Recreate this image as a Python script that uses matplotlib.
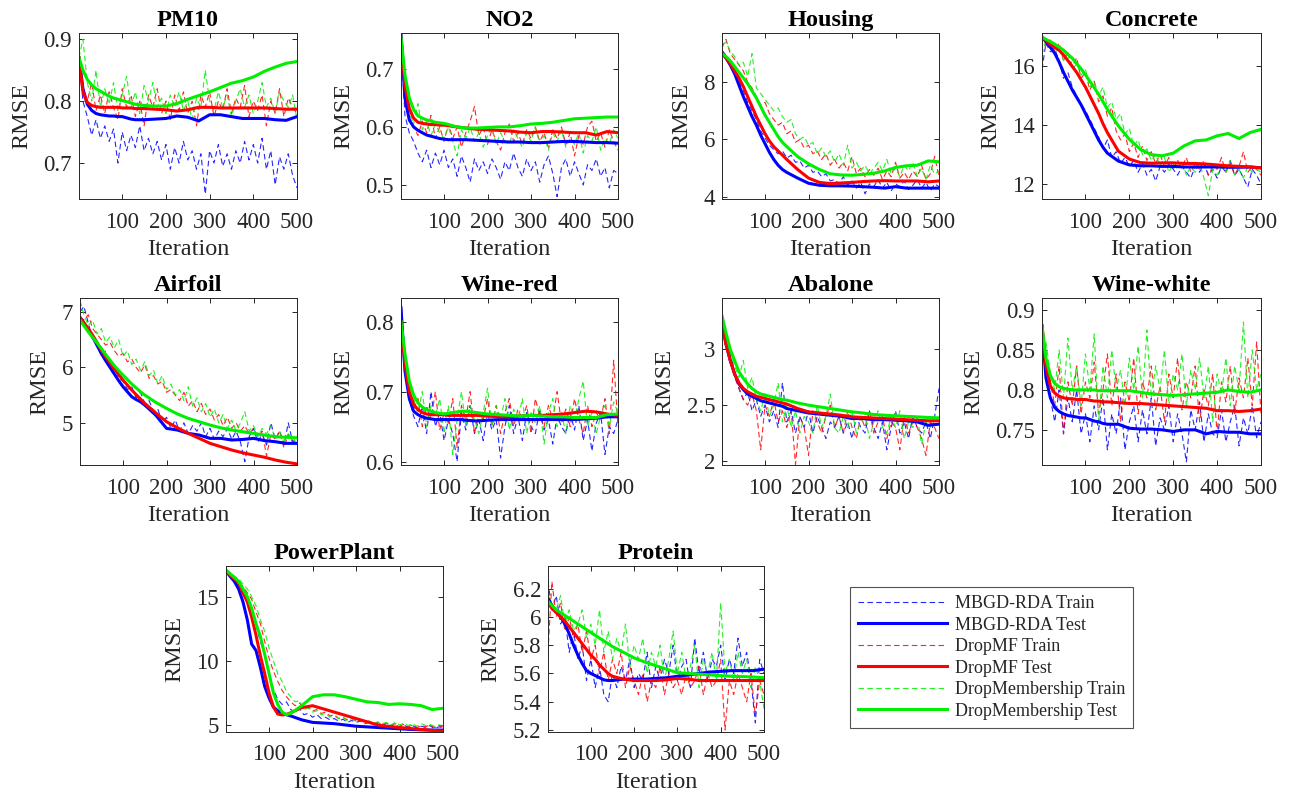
import matplotlib
matplotlib.use("Agg")
import matplotlib.pyplot as plt
from matplotlib.lines import Line2D

plt.rcParams['font.family'] = ['Liberation Serif', 'DejaVu Serif']

# ---------------- data ----------------
X_TRAIN = [1] + list(range(10, 501, 10))
X_TEST = [1, 10, 20, 30, 40, 50, 60, 70, 80, 90, 100, 110, 120, 130, 140, 150,
          175, 200, 225, 250, 275, 300, 325, 350, 375, 400, 425, 450, 475, 500]

titles = ["PM10", "NO2", "Housing", "Concrete", "Airfoil", "Wine-red",
          "Abalone", "Wine-white", "PowerPlant", "Protein"]
series_labels = ["MBGD-RDA Train", "MBGD-RDA Test", "DropMF Train", "DropMF Test",
                 "DropMembership Train", "DropMembership Test"]

ylims = {
    "PM10": (0.642, 0.91), "NO2": (0.476, 0.7615), "Housing": (3.92, 9.72),
    "Concrete": (11.49, 17.14), "Airfoil": (4.24, 7.25), "Wine-red": (0.595, 0.834),
    "Abalone": (1.964, 3.46), "Wine-white": (0.706, 0.915),
    "PowerPlant": (4.45, 17.39), "Protein": (5.186, 6.36),
}
yticks = {
    "PM10": [0.7, 0.8, 0.9], "NO2": [0.5, 0.6, 0.7], "Housing": [4, 6, 8],
    "Concrete": [12, 14, 16], "Airfoil": [5, 6, 7], "Wine-red": [0.6, 0.7, 0.8],
    "Abalone": [2, 2.5, 3], "Wine-white": [0.75, 0.8, 0.85, 0.9],
    "PowerPlant": [5, 10, 15], "Protein": [5.2, 5.4, 5.6, 5.8, 6.0, 6.2],
}

# train (dashed) series, sampled at X_TRAIN
pm10_rda_train = [0.870, 0.800, 0.775, 0.745, 0.770, 0.740, 0.760, 0.735, 0.755, 0.700, 0.750, 0.720, 0.745, 0.725, 0.760, 0.720, 0.740, 0.715, 0.735, 0.705, 0.730, 0.690, 0.725, 0.700, 0.735, 0.705, 0.720, 0.690, 0.715, 0.650, 0.720, 0.700, 0.730, 0.695, 0.715, 0.690, 0.720, 0.700, 0.735, 0.705, 0.730, 0.700, 0.740, 0.690, 0.720, 0.665, 0.710, 0.690, 0.715, 0.680, 0.660]
pm10_mf_train = [0.880, 0.820, 0.800, 0.830, 0.785, 0.810, 0.780, 0.815, 0.790, 0.770, 0.820, 0.790, 0.810, 0.775, 0.800, 0.760, 0.810, 0.790, 0.820, 0.780, 0.800, 0.770, 0.810, 0.785, 0.815, 0.780, 0.800, 0.760, 0.810, 0.790, 0.815, 0.775, 0.800, 0.785, 0.820, 0.780, 0.805, 0.790, 0.825, 0.775, 0.800, 0.785, 0.810, 0.760, 0.800, 0.780, 0.820, 0.775, 0.805, 0.790, 0.780]
pm10_mem_train = [0.870, 0.900, 0.830, 0.800, 0.850, 0.790, 0.820, 0.795, 0.830, 0.785, 0.810, 0.840, 0.790, 0.815, 0.780, 0.825, 0.800, 0.830, 0.790, 0.805, 0.780, 0.810, 0.790, 0.815, 0.785, 0.800, 0.770, 0.805, 0.790, 0.850, 0.800, 0.785, 0.815, 0.790, 0.810, 0.775, 0.800, 0.820, 0.790, 0.810, 0.780, 0.800, 0.830, 0.790, 0.805, 0.780, 0.815, 0.800, 0.790, 0.810, 0.770]
pm10_rda_test = [0.870, 0.820, 0.795, 0.785, 0.780, 0.778, 0.777, 0.776, 0.776, 0.775, 0.775, 0.773, 0.771, 0.770, 0.770, 0.770, 0.771, 0.772, 0.776, 0.774, 0.768, 0.778, 0.778, 0.775, 0.772, 0.772, 0.772, 0.770, 0.769, 0.775]
pm10_mf_test = [0.870, 0.815, 0.798, 0.793, 0.791, 0.790, 0.790, 0.790, 0.790, 0.790, 0.789, 0.789, 0.789, 0.788, 0.788, 0.788, 0.787, 0.786, 0.784, 0.786, 0.790, 0.790, 0.789, 0.789, 0.789, 0.789, 0.789, 0.788, 0.787, 0.787]
pm10_mem_test = [0.870, 0.850, 0.835, 0.826, 0.820, 0.816, 0.812, 0.808, 0.805, 0.803, 0.801, 0.799, 0.797, 0.795, 0.794, 0.793, 0.792, 0.792, 0.796, 0.803, 0.809, 0.815, 0.822, 0.829, 0.833, 0.839, 0.848, 0.855, 0.861, 0.864]

no2_rda_train = [0.750, 0.620, 0.590, 0.575, 0.555, 0.540, 0.560, 0.530, 0.555, 0.535, 0.560, 0.530, 0.545, 0.515, 0.550, 0.530, 0.505, 0.545, 0.525, 0.540, 0.520, 0.545, 0.530, 0.510, 0.540, 0.525, 0.555, 0.530, 0.515, 0.545, 0.525, 0.540, 0.505, 0.535, 0.550, 0.520, 0.480, 0.530, 0.545, 0.515, 0.540, 0.520, 0.500, 0.535, 0.525, 0.545, 0.515, 0.530, 0.495, 0.525, 0.520]
no2_mf_train = [0.755, 0.640, 0.615, 0.600, 0.585, 0.610, 0.590, 0.620, 0.580, 0.600, 0.575, 0.605, 0.580, 0.600, 0.565, 0.590, 0.610, 0.635, 0.585, 0.600, 0.570, 0.595, 0.575, 0.560, 0.590, 0.605, 0.575, 0.590, 0.570, 0.595, 0.580, 0.600, 0.575, 0.590, 0.565, 0.595, 0.580, 0.600, 0.570, 0.590, 0.550, 0.585, 0.570, 0.600, 0.610, 0.575, 0.590, 0.565, 0.595, 0.575, 0.560]
no2_mem_train = [0.755, 0.650, 0.625, 0.605, 0.640, 0.595, 0.610, 0.585, 0.605, 0.590, 0.580, 0.600, 0.575, 0.550, 0.595, 0.580, 0.600, 0.575, 0.590, 0.565, 0.585, 0.600, 0.570, 0.590, 0.575, 0.570, 0.595, 0.580, 0.565, 0.590, 0.575, 0.600, 0.570, 0.585, 0.560, 0.590, 0.575, 0.595, 0.565, 0.580, 0.570, 0.590, 0.555, 0.585, 0.575, 0.600, 0.560, 0.580, 0.570, 0.595, 0.580]
no2_rda_test = [0.760, 0.650, 0.612, 0.600, 0.594, 0.590, 0.586, 0.584, 0.582, 0.580, 0.579, 0.578, 0.578, 0.578, 0.578, 0.578, 0.577, 0.576, 0.575, 0.574, 0.574, 0.573, 0.573, 0.574, 0.575, 0.575, 0.574, 0.573, 0.573, 0.572]
no2_mf_test = [0.755, 0.670, 0.632, 0.615, 0.608, 0.606, 0.605, 0.604, 0.604, 0.603, 0.603, 0.602, 0.601, 0.600, 0.599, 0.598, 0.596, 0.595, 0.594, 0.593, 0.591, 0.590, 0.592, 0.592, 0.591, 0.590, 0.590, 0.586, 0.592, 0.590]
no2_mem_test = [0.755, 0.690, 0.650, 0.630, 0.619, 0.615, 0.612, 0.610, 0.608, 0.607, 0.606, 0.604, 0.602, 0.600, 0.599, 0.598, 0.598, 0.599, 0.600, 0.600, 0.602, 0.605, 0.606, 0.608, 0.611, 0.614, 0.615, 0.616, 0.617, 0.617]

housing_rda_train = [9.10, 8.95, 8.70, 8.45, 8.00, 7.70, 7.30, 7.00, 6.70, 6.30, 6.05, 5.80, 5.65, 5.50, 5.60, 5.35, 5.45, 5.20, 5.25, 5.00, 5.10, 4.85, 4.90, 4.70, 4.80, 4.55, 4.60, 4.45, 4.70, 4.40, 4.55, 4.30, 4.50, 4.10, 4.45, 4.35, 4.60, 4.30, 4.50, 4.20, 4.45, 4.35, 4.55, 4.25, 4.40, 4.60, 4.30, 4.50, 4.20, 4.45, 4.35]
housing_mf_train = [9.20, 9.50, 9.00, 8.80, 8.60, 8.40, 8.00, 7.80, 7.50, 7.20, 7.30, 6.90, 6.70, 6.50, 6.60, 6.20, 6.30, 5.90, 6.00, 5.70, 5.80, 5.50, 5.60, 5.30, 5.50, 5.10, 5.30, 5.00, 5.20, 4.90, 5.40, 4.80, 5.00, 4.70, 4.95, 4.75, 5.00, 4.60, 4.90, 4.70, 5.20, 4.65, 4.85, 4.60, 4.90, 4.70, 5.10, 4.60, 4.80, 5.40, 4.70]
housing_mem_train = [9.30, 9.40, 9.10, 8.90, 8.60, 8.70, 8.20, 9.00, 7.80, 7.60, 7.40, 7.20, 7.00, 7.10, 6.80, 6.60, 6.70, 6.20, 6.00, 6.10, 5.80, 5.90, 5.50, 5.70, 5.40, 5.60, 5.20, 5.50, 5.10, 5.80, 5.00, 5.20, 4.90, 5.10, 4.80, 5.00, 5.20, 4.90, 5.30, 4.80, 5.00, 4.70, 5.10, 4.90, 5.20, 4.70, 5.00, 4.60, 5.10, 4.80, 4.90]
housing_rda_test = [9.05, 8.85, 8.60, 8.30, 7.90, 7.50, 7.15, 6.80, 6.50, 6.15, 5.85, 5.55, 5.30, 5.10, 4.95, 4.85, 4.65, 4.47, 4.40, 4.38, 4.38, 4.37, 4.35, 4.33, 4.30, 4.35, 4.30, 4.30, 4.30, 4.30]
housing_mf_test = [9.00, 8.85, 8.65, 8.40, 8.15, 7.85, 7.50, 7.15, 6.80, 6.50, 6.20, 5.95, 5.75, 5.60, 5.45, 5.30, 4.95, 4.65, 4.50, 4.46, 4.48, 4.50, 4.53, 4.55, 4.56, 4.55, 4.55, 4.55, 4.52, 4.55]
housing_mem_test = [9.00, 8.90, 8.75, 8.55, 8.35, 8.15, 7.95, 7.70, 7.45, 7.15, 6.85, 6.60, 6.35, 6.10, 5.90, 5.75, 5.40, 5.15, 4.95, 4.80, 4.76, 4.75, 4.78, 4.82, 4.90, 5.02, 5.08, 5.10, 5.25, 5.22]

concrete_rda_train = [15.90, 16.80, 16.50, 16.60, 16.20, 15.60, 15.80, 15.30, 15.00, 14.70, 14.50, 14.20, 13.90, 13.60, 13.20, 13.50, 12.90, 13.10, 12.70, 12.90, 12.60, 12.80, 12.40, 12.70, 12.30, 12.50, 12.10, 12.60, 12.40, 12.70, 12.50, 12.30, 12.60, 12.40, 12.20, 12.60, 12.40, 12.70, 12.30, 12.50, 12.20, 12.60, 12.40, 12.80, 12.30, 12.50, 12.20, 11.90, 12.50, 12.30, 12.00]
concrete_mf_train = [17.10, 16.70, 16.90, 16.50, 16.80, 16.20, 16.50, 16.00, 16.30, 15.60, 15.80, 15.20, 15.50, 14.80, 15.00, 14.30, 14.60, 13.80, 13.50, 13.70, 13.10, 13.40, 12.90, 13.30, 12.80, 13.10, 12.70, 13.00, 12.60, 12.90, 12.50, 12.80, 12.60, 12.90, 12.40, 12.70, 12.50, 12.80, 12.30, 12.60, 12.50, 12.90, 12.40, 12.70, 12.30, 12.60, 13.10, 12.40, 12.60, 12.50, 12.30]
concrete_mem_train = [16.40, 16.90, 16.70, 16.50, 16.60, 16.20, 16.40, 15.90, 16.10, 15.70, 15.90, 15.30, 15.50, 15.00, 15.30, 14.60, 14.80, 14.20, 14.40, 13.70, 13.90, 13.30, 13.50, 13.00, 13.20, 12.80, 13.00, 12.60, 12.90, 12.40, 12.70, 12.50, 12.80, 12.30, 12.60, 12.40, 12.70, 12.20, 11.60, 12.50, 12.30, 12.60, 12.40, 12.80, 12.30, 12.50, 12.20, 12.60, 12.40, 12.50, 12.40]
concrete_rda_test = [17.00, 16.85, 16.65, 16.45, 16.15, 15.80, 15.50, 15.20, 14.95, 14.70, 14.40, 14.10, 13.80, 13.50, 13.25, 13.05, 12.78, 12.65, 12.62, 12.62, 12.60, 12.60, 12.58, 12.58, 12.58, 12.58, 12.57, 12.57, 12.58, 12.55]
concrete_mf_test = [17.00, 16.90, 16.75, 16.65, 16.55, 16.40, 16.20, 16.00, 15.80, 15.55, 15.30, 15.00, 14.70, 14.40, 14.05, 13.75, 13.12, 12.85, 12.73, 12.71, 12.72, 12.72, 12.70, 12.70, 12.68, 12.65, 12.62, 12.60, 12.58, 12.55]
concrete_mem_test = [17.00, 16.92, 16.85, 16.76, 16.66, 16.56, 16.42, 16.28, 16.10, 15.92, 15.72, 15.50, 15.28, 15.05, 14.80, 14.54, 13.98, 13.52, 13.18, 13.00, 12.96, 13.05, 13.30, 13.47, 13.50, 13.64, 13.72, 13.55, 13.75, 13.86]

airfoil_rda_train = [7.00, 7.10, 6.80, 6.50, 6.45, 6.20, 6.30, 6.00, 6.05, 5.80, 5.75, 5.60, 5.65, 5.45, 5.55, 5.35, 5.40, 5.20, 5.25, 5.00, 5.10, 4.90, 5.05, 4.85, 5.00, 4.80, 4.95, 4.85, 5.00, 4.75, 4.90, 4.70, 4.85, 4.75, 4.90, 4.70, 4.85, 4.65, 4.30, 4.75, 4.90, 4.65, 4.80, 4.60, 5.00, 4.70, 4.85, 4.60, 5.00, 4.65, 4.75]
airfoil_mf_train = [6.90, 6.85, 6.95, 6.70, 6.60, 6.50, 6.40, 6.45, 6.30, 6.20, 6.25, 6.10, 6.15, 6.00, 5.90, 6.05, 5.80, 5.85, 5.70, 5.75, 5.55, 5.60, 5.50, 5.40, 5.55, 5.30, 5.40, 5.20, 5.35, 5.15, 5.25, 5.05, 5.15, 4.95, 5.10, 4.90, 5.00, 4.85, 4.95, 4.80, 4.90, 4.75, 4.85, 4.40, 4.80, 4.70, 4.85, 4.55, 4.80, 4.65, 4.70]
airfoil_mem_train = [7.20, 6.95, 6.75, 6.85, 6.60, 6.70, 6.45, 6.55, 6.35, 6.50, 6.20, 6.30, 6.05, 6.15, 5.95, 6.10, 5.85, 5.95, 5.70, 5.85, 5.60, 5.70, 5.50, 5.60, 5.40, 5.65, 5.30, 5.45, 5.20, 5.35, 5.10, 5.25, 5.00, 5.15, 4.90, 5.05, 4.85, 5.00, 5.20, 4.85, 4.95, 4.75, 4.90, 4.80, 4.95, 4.70, 4.85, 4.65, 4.80, 4.70, 4.65]
airfoil_rda_test = [6.90, 6.80, 6.68, 6.55, 6.40, 6.25, 6.12, 6.00, 5.88, 5.76, 5.65, 5.56, 5.47, 5.42, 5.38, 5.32, 5.14, 4.90, 4.87, 4.81, 4.78, 4.72, 4.72, 4.69, 4.70, 4.72, 4.68, 4.66, 4.63, 4.63]
airfoil_mf_test = [6.90, 6.80, 6.70, 6.58, 6.45, 6.31, 6.19, 6.08, 5.97, 5.87, 5.77, 5.68, 5.59, 5.51, 5.43, 5.35, 5.18, 5.02, 4.91, 4.81, 4.72, 4.63, 4.57, 4.51, 4.46, 4.42, 4.38, 4.33, 4.29, 4.26]
airfoil_mem_test = [6.85, 6.75, 6.64, 6.54, 6.44, 6.34, 6.23, 6.13, 6.03, 5.94, 5.86, 5.78, 5.70, 5.63, 5.56, 5.50, 5.37, 5.26, 5.16, 5.08, 5.02, 4.96, 4.91, 4.87, 4.84, 4.81, 4.78, 4.75, 4.74, 4.73]

winered_rda_train = [0.820, 0.740, 0.690, 0.665, 0.650, 0.680, 0.640, 0.700, 0.650, 0.670, 0.630, 0.660, 0.640, 0.600, 0.670, 0.645, 0.680, 0.640, 0.660, 0.630, 0.670, 0.645, 0.660, 0.605, 0.650, 0.680, 0.640, 0.665, 0.630, 0.670, 0.650, 0.640, 0.675, 0.645, 0.660, 0.625, 0.665, 0.650, 0.640, 0.670, 0.645, 0.680, 0.630, 0.660, 0.615, 0.655, 0.670, 0.610, 0.650, 0.640, 0.660]
winered_mf_train = [0.800, 0.760, 0.700, 0.675, 0.690, 0.650, 0.680, 0.660, 0.700, 0.645, 0.670, 0.655, 0.690, 0.620, 0.680, 0.660, 0.700, 0.640, 0.670, 0.660, 0.690, 0.650, 0.680, 0.640, 0.670, 0.690, 0.650, 0.675, 0.660, 0.680, 0.640, 0.690, 0.665, 0.650, 0.680, 0.660, 0.700, 0.655, 0.675, 0.650, 0.690, 0.660, 0.640, 0.680, 0.650, 0.670, 0.660, 0.690, 0.640, 0.745, 0.650]
winered_mem_train = [0.830, 0.760, 0.710, 0.690, 0.670, 0.700, 0.650, 0.680, 0.665, 0.690, 0.640, 0.680, 0.610, 0.660, 0.700, 0.650, 0.680, 0.660, 0.640, 0.670, 0.705, 0.650, 0.680, 0.660, 0.690, 0.645, 0.675, 0.660, 0.690, 0.640, 0.670, 0.655, 0.680, 0.625, 0.670, 0.690, 0.650, 0.670, 0.640, 0.680, 0.660, 0.690, 0.715, 0.650, 0.670, 0.640, 0.665, 0.680, 0.650, 0.685, 0.670]
winered_rda_test = [0.820, 0.730, 0.690, 0.672, 0.667, 0.664, 0.662, 0.661, 0.660, 0.660, 0.660, 0.660, 0.660, 0.660, 0.660, 0.659, 0.658, 0.659, 0.660, 0.660, 0.660, 0.660, 0.660, 0.660, 0.660, 0.660, 0.661, 0.662, 0.664, 0.664]
winered_mf_test = [0.800, 0.740, 0.700, 0.682, 0.674, 0.670, 0.668, 0.667, 0.667, 0.667, 0.667, 0.666, 0.666, 0.666, 0.666, 0.666, 0.666, 0.665, 0.664, 0.664, 0.665, 0.666, 0.666, 0.667, 0.668, 0.670, 0.672, 0.671, 0.668, 0.666]
winered_mem_test = [0.800, 0.755, 0.715, 0.695, 0.684, 0.678, 0.674, 0.672, 0.670, 0.669, 0.668, 0.669, 0.670, 0.671, 0.672, 0.672, 0.670, 0.668, 0.667, 0.666, 0.665, 0.666, 0.665, 0.664, 0.664, 0.663, 0.663, 0.663, 0.667, 0.668]

abalone_rda_train = [3.20, 3.10, 2.95, 2.80, 2.65, 2.55, 2.62, 2.45, 2.55, 2.40, 2.50, 2.35, 2.45, 2.30, 2.70, 2.35, 2.45, 2.25, 2.40, 2.30, 2.45, 2.25, 2.40, 2.30, 2.20, 2.35, 2.30, 2.40, 2.25, 2.35, 2.20, 2.40, 2.30, 2.25, 2.45, 2.30, 2.20, 2.35, 2.10, 2.30, 2.45, 2.25, 2.35, 2.20, 2.40, 2.30, 2.25, 2.35, 2.20, 2.40, 2.65]
abalone_mf_train = [3.20, 3.05, 2.90, 2.75, 2.65, 2.55, 2.50, 2.60, 2.45, 2.10, 2.50, 2.40, 2.55, 2.35, 2.45, 2.30, 2.45, 1.97, 2.40, 2.30, 2.05, 2.45, 2.35, 2.25, 2.40, 2.50, 2.30, 2.40, 2.25, 2.45, 2.30, 2.20, 2.40, 2.30, 2.45, 2.25, 2.35, 2.40, 2.20, 2.35, 2.30, 2.10, 2.40, 2.25, 2.35, 2.30, 2.20, 2.05, 2.35, 2.30, 2.20]
abalone_mem_train = [3.30, 3.15, 2.95, 2.85, 2.75, 2.90, 2.65, 2.75, 2.55, 2.45, 2.60, 2.40, 2.50, 2.70, 2.35, 2.50, 2.30, 2.45, 2.25, 2.40, 2.35, 2.25, 2.50, 2.30, 2.40, 2.60, 2.30, 2.25, 2.40, 2.30, 2.45, 2.25, 2.35, 2.40, 2.20, 2.35, 2.45, 2.30, 2.25, 2.40, 2.30, 2.45, 2.20, 2.35, 2.30, 2.40, 2.15, 2.35, 2.30, 2.40, 2.35]
abalone_rda_test = [3.25, 3.05, 2.90, 2.78, 2.69, 2.64, 2.60, 2.58, 2.56, 2.54, 2.53, 2.52, 2.51, 2.50, 2.49, 2.47, 2.45, 2.43, 2.42, 2.41, 2.40, 2.38, 2.38, 2.37, 2.37, 2.365, 2.36, 2.35, 2.32, 2.33]
abalone_mf_test = [3.22, 3.05, 2.90, 2.78, 2.70, 2.65, 2.62, 2.60, 2.58, 2.57, 2.56, 2.55, 2.54, 2.53, 2.52, 2.51, 2.47, 2.44, 2.43, 2.42, 2.41, 2.395, 2.39, 2.385, 2.38, 2.375, 2.37, 2.365, 2.36, 2.36]
abalone_mem_test = [3.30, 3.15, 3.00, 2.90, 2.80, 2.74, 2.69, 2.65, 2.62, 2.60, 2.59, 2.58, 2.57, 2.56, 2.55, 2.545, 2.52, 2.50, 2.485, 2.47, 2.455, 2.44, 2.43, 2.416, 2.41, 2.404, 2.40, 2.395, 2.39, 2.386]

winewhite_rda_train = [0.890, 0.820, 0.790, 0.760, 0.800, 0.745, 0.790, 0.760, 0.800, 0.745, 0.770, 0.735, 0.780, 0.750, 0.790, 0.725, 0.770, 0.745, 0.790, 0.725, 0.760, 0.780, 0.735, 0.775, 0.745, 0.790, 0.730, 0.765, 0.750, 0.780, 0.735, 0.770, 0.745, 0.710, 0.775, 0.750, 0.785, 0.735, 0.770, 0.745, 0.740, 0.775, 0.735, 0.760, 0.780, 0.730, 0.765, 0.745, 0.780, 0.740, 0.760]
winewhite_mf_train = [0.880, 0.840, 0.810, 0.780, 0.830, 0.745, 0.810, 0.780, 0.830, 0.770, 0.810, 0.790, 0.835, 0.770, 0.800, 0.845, 0.780, 0.820, 0.760, 0.810, 0.785, 0.840, 0.770, 0.810, 0.790, 0.830, 0.775, 0.805, 0.760, 0.820, 0.790, 0.840, 0.775, 0.810, 0.790, 0.830, 0.760, 0.800, 0.780, 0.820, 0.745, 0.810, 0.785, 0.830, 0.770, 0.815, 0.790, 0.840, 0.780, 0.860, 0.770]
winewhite_mem_train = [0.870, 0.860, 0.820, 0.800, 0.850, 0.790, 0.865, 0.800, 0.830, 0.780, 0.845, 0.800, 0.870, 0.760, 0.830, 0.790, 0.850, 0.800, 0.825, 0.780, 0.840, 0.800, 0.855, 0.790, 0.875, 0.790, 0.830, 0.800, 0.850, 0.780, 0.820, 0.800, 0.845, 0.780, 0.825, 0.800, 0.840, 0.790, 0.830, 0.760, 0.820, 0.795, 0.840, 0.780, 0.830, 0.800, 0.885, 0.790, 0.850, 0.800, 0.820]
winewhite_rda_test = [0.880, 0.815, 0.790, 0.778, 0.773, 0.770, 0.768, 0.767, 0.766, 0.765, 0.765, 0.763, 0.761, 0.760, 0.758, 0.757, 0.757, 0.752, 0.751, 0.751, 0.750, 0.748, 0.750, 0.750, 0.745, 0.748, 0.747, 0.747, 0.745, 0.745]
winewhite_mf_test = [0.880, 0.830, 0.805, 0.796, 0.792, 0.790, 0.789, 0.789, 0.788, 0.788, 0.788, 0.787, 0.786, 0.786, 0.785, 0.785, 0.784, 0.783, 0.783, 0.782, 0.781, 0.780, 0.779, 0.778, 0.777, 0.774, 0.774, 0.773, 0.774, 0.776]
winewhite_mem_test = [0.880, 0.840, 0.818, 0.808, 0.804, 0.802, 0.801, 0.800, 0.800, 0.800, 0.800, 0.800, 0.800, 0.799, 0.799, 0.799, 0.799, 0.799, 0.797, 0.795, 0.794, 0.793, 0.794, 0.795, 0.796, 0.797, 0.800, 0.798, 0.797, 0.800]

power_rda_train = [17.0, 16.8, 16.4, 15.8, 15.2, 14.6, 13.8, 12.8, 11.5, 10.5, 9.0, 7.8, 7.0, 6.6, 6.8, 6.2, 6.0, 6.3, 5.8, 5.9, 5.6, 5.8, 5.5, 5.6, 5.4, 5.5, 5.3, 5.45, 5.2, 5.35, 5.2, 5.3, 5.1, 5.2, 5.0, 5.15, 4.95, 5.1, 4.9, 5.0, 4.85, 5.0, 4.8, 4.95, 4.75, 4.9, 4.8, 4.95, 4.7, 4.85, 4.8]
power_mf_train = [16.8, 16.9, 16.5, 16.2, 15.8, 15.3, 14.8, 13.8, 12.9, 11.5, 10.2, 9.2, 8.4, 7.7, 7.2, 6.8, 6.5, 6.7, 6.3, 6.4, 6.1, 6.2, 5.9, 6.0, 5.7, 5.8, 5.5, 5.6, 5.4, 5.5, 5.3, 5.4, 5.2, 5.3, 5.1, 5.2, 5.0, 5.15, 4.95, 5.1, 4.9, 5.05, 4.85, 5.0, 4.8, 4.95, 4.85, 5.0, 4.8, 4.9, 4.85]
power_mem_train = [17.2, 16.9, 16.6, 16.4, 16.0, 15.6, 15.0, 14.3, 13.2, 12.3, 11.0, 10.0, 9.0, 8.4, 7.6, 7.2, 6.8, 6.9, 6.2, 6.3, 6.0, 6.1, 5.8, 5.9, 5.6, 5.7, 5.5, 5.6, 5.3, 5.5, 5.3, 5.4, 5.2, 5.3, 5.1, 5.25, 5.1, 5.2, 5.0, 5.2, 5.0, 5.15, 4.95, 5.1, 4.9, 5.1, 4.95, 5.05, 4.9, 5.0, 4.95]
power_rda_test = [17.0, 16.6, 16.2, 15.6, 14.6, 13.2, 11.3, 10.8, 9.5, 8.0, 7.1, 6.4, 6.1, 5.9, 5.8, 5.7, 5.4, 5.2, 5.15, 5.1, 5.0, 4.9, 4.85, 4.8, 4.75, 4.7, 4.65, 4.62, 4.6, 4.6]
power_mf_test = [17.0, 16.7, 16.4, 16.1, 15.3, 14.6, 13.4, 12.0, 10.4, 9.0, 7.5, 6.4, 5.85, 5.78, 5.82, 5.95, 6.35, 6.5, 6.25, 6.0, 5.75, 5.5, 5.25, 5.0, 4.88, 4.8, 4.72, 4.65, 4.58, 4.53]
power_mem_test = [17.0, 16.8, 16.5, 16.2, 15.6, 15.0, 14.1, 12.9, 11.9, 10.5, 9.0, 7.5, 6.6, 6.0, 5.8, 5.9, 6.5, 7.2, 7.35, 7.35, 7.2, 7.0, 6.8, 6.75, 6.6, 6.65, 6.6, 6.5, 6.2, 6.3]

protein_rda_train = [6.25, 6.05, 6.15, 5.95, 6.00, 5.75, 5.90, 5.70, 5.80, 5.55, 5.70, 5.50, 5.65, 5.45, 5.40, 5.60, 5.50, 5.65, 5.55, 5.70, 5.50, 5.60, 5.55, 5.75, 5.50, 5.65, 5.55, 5.70, 5.60, 5.80, 5.55, 5.65, 5.70, 5.50, 5.85, 5.60, 5.75, 5.55, 5.70, 5.65, 5.80, 5.55, 5.70, 5.60, 5.85, 5.65, 5.75, 5.55, 5.25, 5.70, 5.60]
protein_mf_train = [5.75, 6.25, 6.00, 6.10, 5.90, 6.00, 5.85, 5.95, 5.75, 5.90, 5.70, 5.80, 5.60, 5.75, 5.55, 5.70, 5.60, 5.75, 5.50, 5.65, 5.55, 5.45, 5.60, 5.40, 5.55, 5.50, 5.65, 5.45, 5.60, 5.50, 5.55, 5.45, 5.60, 5.50, 5.55, 5.65, 5.45, 5.60, 5.50, 5.55, 5.70, 5.20, 5.55, 5.45, 5.60, 5.50, 5.40, 5.60, 5.30, 5.55, 5.45]
protein_mem_train = [6.15, 6.10, 6.05, 6.15, 5.95, 6.05, 5.90, 5.95, 6.05, 5.85, 5.95, 5.80, 6.05, 5.75, 5.90, 5.70, 5.85, 5.75, 5.95, 5.65, 5.80, 5.70, 5.85, 5.60, 5.75, 5.65, 5.80, 5.55, 5.70, 5.90, 5.60, 5.75, 5.55, 5.65, 5.80, 5.50, 5.70, 5.60, 5.75, 5.55, 6.10, 5.60, 5.70, 5.55, 5.75, 5.60, 5.70, 5.50, 5.65, 5.55, 5.35]
protein_rda_test = [6.13, 6.08, 6.04, 6.00, 5.95, 5.88, 5.80, 5.73, 5.67, 5.62, 5.60, 5.585, 5.57, 5.555, 5.55, 5.55, 5.56, 5.56, 5.56, 5.565, 5.57, 5.58, 5.59, 5.60, 5.61, 5.615, 5.62, 5.62, 5.62, 5.63]
protein_mf_test = [6.10, 6.06, 6.03, 6.00, 5.97, 5.93, 5.89, 5.85, 5.81, 5.77, 5.73, 5.70, 5.66, 5.63, 5.60, 5.58, 5.56, 5.55, 5.55, 5.55, 5.555, 5.565, 5.56, 5.55, 5.55, 5.55, 5.55, 5.55, 5.55, 5.55]
protein_mem_test = [6.11, 6.08, 6.05, 6.03, 6.01, 5.99, 5.97, 5.95, 5.93, 5.91, 5.89, 5.87, 5.85, 5.83, 5.81, 5.79, 5.75, 5.71, 5.68, 5.655, 5.63, 5.605, 5.60, 5.595, 5.59, 5.585, 5.58, 5.578, 5.575, 5.57]

datasets = {
    "PM10": (pm10_rda_train, pm10_rda_test, pm10_mf_train, pm10_mf_test, pm10_mem_train, pm10_mem_test),
    "NO2": (no2_rda_train, no2_rda_test, no2_mf_train, no2_mf_test, no2_mem_train, no2_mem_test),
    "Housing": (housing_rda_train, housing_rda_test, housing_mf_train, housing_mf_test, housing_mem_train, housing_mem_test),
    "Concrete": (concrete_rda_train, concrete_rda_test, concrete_mf_train, concrete_mf_test, concrete_mem_train, concrete_mem_test),
    "Airfoil": (airfoil_rda_train, airfoil_rda_test, airfoil_mf_train, airfoil_mf_test, airfoil_mem_train, airfoil_mem_test),
    "Wine-red": (winered_rda_train, winered_rda_test, winered_mf_train, winered_mf_test, winered_mem_train, winered_mem_test),
    "Abalone": (abalone_rda_train, abalone_rda_test, abalone_mf_train, abalone_mf_test, abalone_mem_train, abalone_mem_test),
    "Wine-white": (winewhite_rda_train, winewhite_rda_test, winewhite_mf_train, winewhite_mf_test, winewhite_mem_train, winewhite_mem_test),
    "PowerPlant": (power_rda_train, power_rda_test, power_mf_train, power_mf_test, power_mem_train, power_mem_test),
    "Protein": (protein_rda_train, protein_rda_test, protein_mf_train, protein_mf_test, protein_mem_train, protein_mem_test),
}

# ---------------- layout ----------------
W, H = 1289, 801
fig = plt.figure(figsize=(W / 100, H / 100), dpi=100)

# pixel boxes: (left, top, right, bottom)
boxes = {
    "PM10": (79, 33, 297, 199), "NO2": (401, 33, 618, 199),
    "Housing": (722, 33, 939, 199), "Concrete": (1042, 33, 1261, 199),
    "Airfoil": (80, 298, 297, 465), "Wine-red": (401, 298, 618, 465),
    "Abalone": (722, 298, 939, 465), "Wine-white": (1042, 298, 1261, 465),
    "PowerPlant": (226, 566, 443, 732), "Protein": (548, 566, 764, 732),
}

colors = ["#0000ff", "#0000ff", "#ff0000", "#ff0000", "#00ee00", "#00ee00"]
axcol = "#262626"

for name in titles:
    l, t, r, b = boxes[name]
    ax = fig.add_axes([l / W, 1 - b / H, (r - l) / W, (b - t) / H])
    ser = datasets[name]
    for i, ys in enumerate(ser):
        if i % 2 == 0:
            ax.plot(X_TRAIN, ys, ls=(0, (5, 3)), lw=0.8, color=colors[i], alpha=0.85)
    for i, ys in enumerate(ser):
        if i % 2 == 1:
            ax.plot(X_TEST, ys, ls='-', lw=2.2, color=colors[i])
    ax.set_xlim(1, 500)
    ax.set_ylim(*ylims[name])
    ax.set_xticks([100, 200, 300, 400, 500])
    ax.set_yticks(yticks[name])
    ax.set_yticklabels(["%g" % v for v in yticks[name]])
    ax.tick_params(direction='in', top=True, right=True, length=3.5, width=0.7,
                   labelsize=16.5, colors=axcol)
    ax.tick_params(axis='x', pad=9)
    ax.tick_params(axis='y', pad=5)
    for sp in ax.spines.values():
        sp.set_color(axcol)
        sp.set_linewidth(0.7)
    ax.set_title(name, fontsize=17.5, fontweight='bold', pad=5)
    ax.set_xlabel("Iteration", fontsize=17.5, color=axcol, labelpad=5)
    ax.set_ylabel("RMSE", fontsize=17.5, color=axcol, labelpad=8)

# legend
handles = []
for i in range(6):
    if i % 2 == 0:
        handles.append(Line2D([], [], color=colors[i], ls=(0, (5, 3)), lw=0.8, alpha=0.85))
    else:
        handles.append(Line2D([], [], color=colors[i], ls='-', lw=2.2))
leg = fig.legend(handles, series_labels, loc='upper left',
                 bbox_to_anchor=(850 / W, 1 - 587 / H), fontsize=13,
                 frameon=True, fancybox=False, handlelength=4.9, handletextpad=0.45,
                 labelspacing=0.25, borderpad=0.45, borderaxespad=0)
leg.get_frame().set_edgecolor(axcol)
leg.get_frame().set_linewidth(0.8)
for txt in leg.get_texts():
    txt.set_color(axcol)

fig.savefig("out.png", dpi=100)
